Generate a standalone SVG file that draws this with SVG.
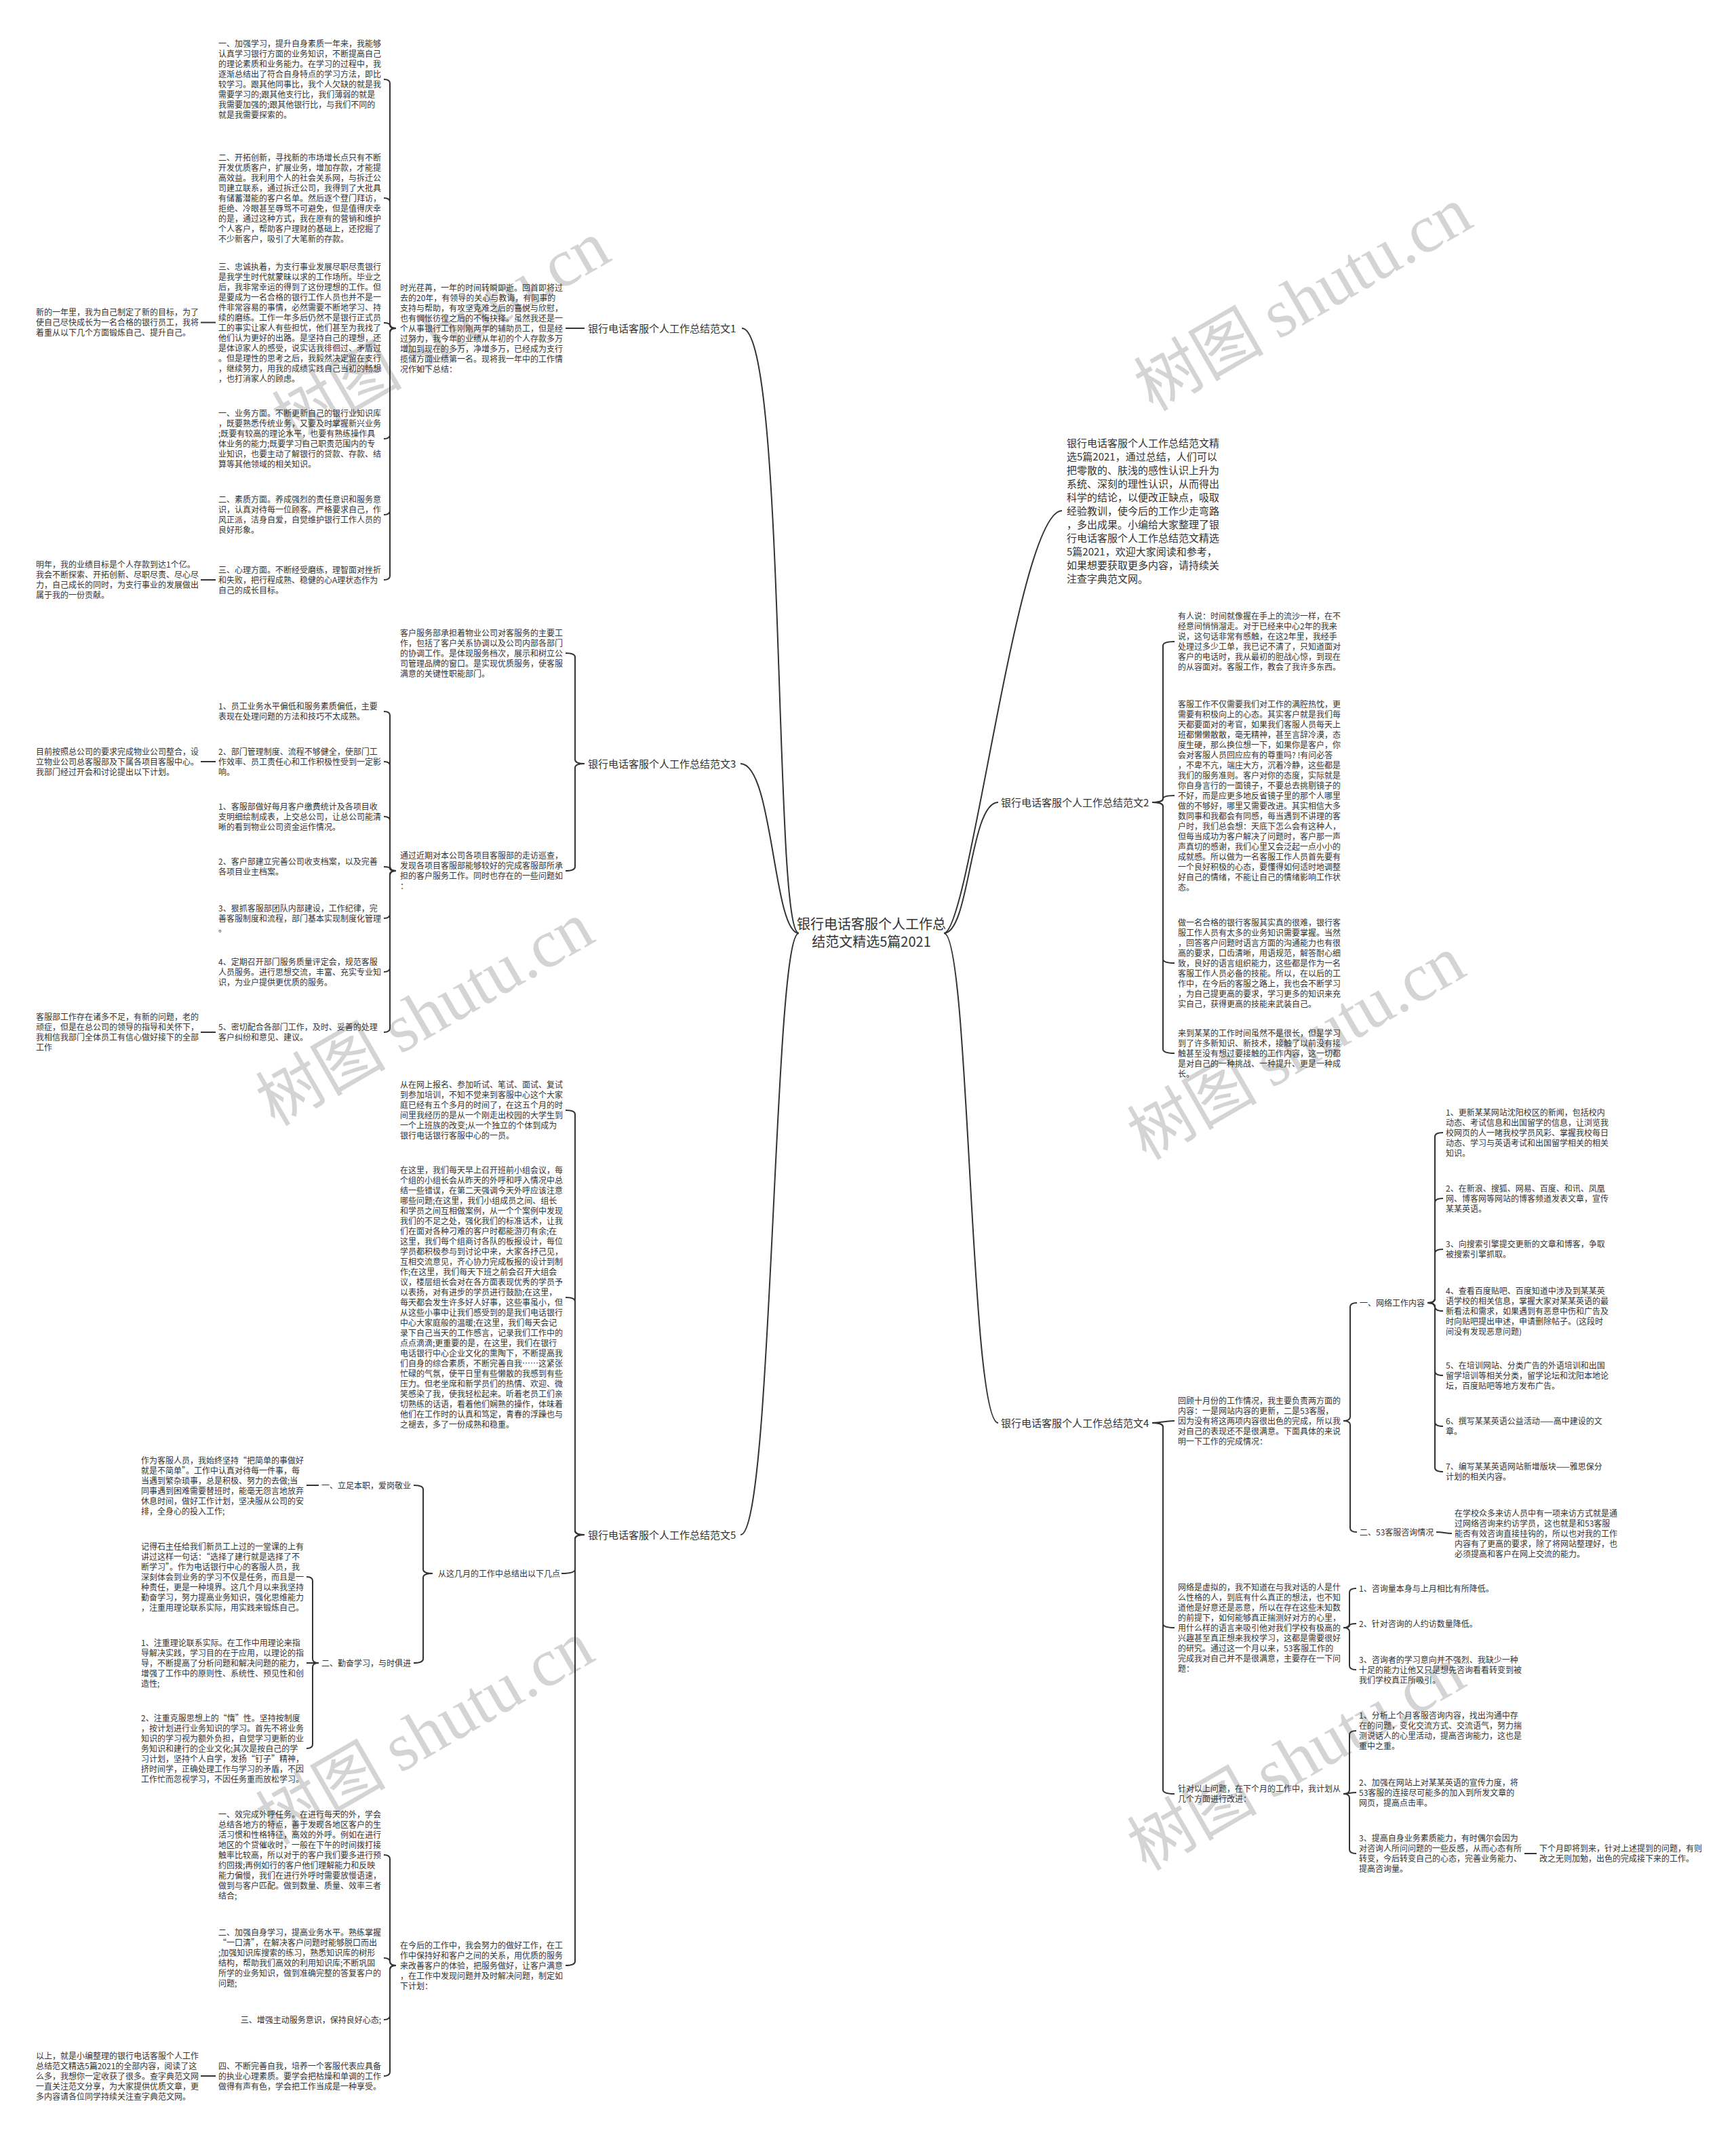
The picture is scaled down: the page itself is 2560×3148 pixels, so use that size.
<svg xmlns="http://www.w3.org/2000/svg" width="2560" height="3148" viewBox="0 0 2560 3148">
<style>
text{font-family:"Noto Sans CJK SC","Noto Sans",sans-serif;fill:#333}
.t{font-size:12px}
.lab{font-size:15px}
.intro{font-size:15px}
.root{font-size:20px}
.wm{font-size:96px;fill:#d4d4d4}
.wms{font-family:"Liberation Serif","DejaVu Serif",serif;font-size:100px}
.c{fill:none;stroke:#333;stroke-width:2}
</style>
<rect width="2560" height="3148" fill="#fff"/>
<g id="watermark">
<text class="wm" text-anchor="middle" transform="translate(667,520) rotate(-30)">树图 <tspan class="wms">shutu.cn</tspan></text>
<text class="wm" text-anchor="middle" transform="translate(1938,470) rotate(-30)">树图 <tspan class="wms">shutu.cn</tspan></text>
<text class="wm" text-anchor="middle" transform="translate(643,1524) rotate(-30)">树图 <tspan class="wms">shutu.cn</tspan></text>
<text class="wm" text-anchor="middle" transform="translate(1928,1574) rotate(-30)">树图 <tspan class="wms">shutu.cn</tspan></text>
<text class="wm" text-anchor="middle" transform="translate(643,2584) rotate(-30)">树图 <tspan class="wms">shutu.cn</tspan></text>
<text class="wm" text-anchor="middle" transform="translate(1928,2622) rotate(-30)">树图 <tspan class="wms">shutu.cn</tspan></text>
</g>
<g id="connectors">
<path class="c" d="M1178 1376C1140 1376 1160 484 1094 484"/>
<path class="c" d="M1178 1376C1140 1376 1140 1126 1092 1126"/>
<path class="c" d="M1178 1376C1140 1376 1140 2263 1092 2263"/>
<path class="c" d="M1392 1376C1430 1376 1500 753 1566 753"/>
<path class="c" d="M1392 1376C1430 1376 1430 1183 1472 1183"/>
<path class="c" d="M1392 1376C1430 1376 1430 2098 1472 2098"/>
<path class="c" d="M834 484H862"/>
<path class="c" d="M584 484Q575 484 575 478V123Q575 117 566 117"/>
<path class="c" d="M584 484Q575 484 575 478V298Q575 292 566 292"/>
<path class="c" d="M584 484Q575 484 575 480Q575 476 566 476"/>
<path class="c" d="M584 484Q575 484 575 490V641Q575 647 566 647"/>
<path class="c" d="M584 484Q575 484 575 490V753Q575 759 566 759"/>
<path class="c" d="M584 484Q575 484 575 490V849Q575 855 566 855"/>
<path class="c" d="M318 475.5H296"/>
<path class="c" d="M318 855H296"/>
<path class="c" d="M862 1126Q848 1126 848 1120V969Q848 963 834 963"/>
<path class="c" d="M862 1126Q848 1126 848 1132V1278Q848 1284 834 1284"/>
<path class="c" d="M584 1284Q575 1284 575 1278V1055Q575 1049 566 1049"/>
<path class="c" d="M584 1284Q575 1284 575 1278V1129Q575 1123 566 1123"/>
<path class="c" d="M584 1284Q575 1284 575 1278V1210Q575 1204 566 1204"/>
<path class="c" d="M584 1284Q575 1284 575 1281Q575 1278 566 1278"/>
<path class="c" d="M584 1284Q575 1284 575 1290V1348Q575 1354 566 1354"/>
<path class="c" d="M584 1284Q575 1284 575 1290V1427Q575 1433 566 1433"/>
<path class="c" d="M584 1284Q575 1284 575 1290V1516Q575 1522 566 1522"/>
<path class="c" d="M318 1123H296"/>
<path class="c" d="M318 1522H296"/>
<path class="c" d="M862 2263Q848 2263 848 2257V1643Q848 1637 834 1637"/>
<path class="c" d="M862 2263Q848 2263 848 2257V1919Q848 1913 834 1913"/>
<path class="c" d="M862 2263Q848 2263 848 2269V2314Q848 2320 828 2320"/>
<path class="c" d="M862 2263Q848 2263 848 2269V2892Q848 2898 834 2898"/>
<path class="c" d="M638 2320Q624 2320 624 2314V2196Q624 2190 610 2190"/>
<path class="c" d="M638 2320Q624 2320 624 2326V2446Q624 2452 610 2452"/>
<path class="c" d="M470 2190H452"/>
<path class="c" d="M470 2452Q461 2452 461 2446V2331Q461 2325 452 2325"/>
<path class="c" d="M470 2452H452"/>
<path class="c" d="M470 2452Q461 2452 461 2458V2572Q461 2578 452 2578"/>
<path class="c" d="M584 2898Q575 2898 575 2892V2741Q575 2735 566 2735"/>
<path class="c" d="M584 2898Q575 2898 575 2892.5Q575 2887 566 2887"/>
<path class="c" d="M584 2898Q575 2898 575 2904V2972Q575 2978 566 2978"/>
<path class="c" d="M584 2898Q575 2898 575 2904V3055Q575 3061 566 3061"/>
<path class="c" d="M318 3061H296"/>
<path class="c" d="M1699 1183Q1715 1183 1715 1177V952Q1715 946 1732 946"/>
<path class="c" d="M1699 1183Q1715 1183 1715 1178Q1715 1173 1732 1173"/>
<path class="c" d="M1699 1183Q1715 1183 1715 1189V1414Q1715 1420 1732 1420"/>
<path class="c" d="M1699 1183Q1715 1183 1715 1189V1547Q1715 1553 1732 1553"/>
<path class="c" d="M1699 2098C1715 2098 1715 2095 1732 2095"/>
<path class="c" d="M1699 2098Q1715 2098 1715 2104V2394Q1715 2400 1732 2400"/>
<path class="c" d="M1699 2098Q1715 2098 1715 2104V2639Q1715 2645 1732 2645"/>
<path class="c" d="M1981 2095Q1991 2095 1991 2089V1927Q1991 1921 2001 1921"/>
<path class="c" d="M1981 2095Q1991 2095 1991 2101V2253Q1991 2259 2001 2259"/>
<path class="c" d="M2105 1921Q2116 1921 2116 1915V1676Q2116 1670 2128 1670"/>
<path class="c" d="M2105 1921Q2116 1921 2116 1915V1773Q2116 1767 2128 1767"/>
<path class="c" d="M2105 1921Q2116 1921 2116 1915V1848Q2116 1842 2128 1842"/>
<path class="c" d="M2105 1921Q2116 1921 2116 1927Q2116 1933 2128 1933"/>
<path class="c" d="M2105 1921Q2116 1921 2116 1927V2022Q2116 2028 2128 2028"/>
<path class="c" d="M2105 1921Q2116 1921 2116 1927V2097Q2116 2103 2128 2103"/>
<path class="c" d="M2105 1921Q2116 1921 2116 1927V2164Q2116 2170 2128 2170"/>
<path class="c" d="M2118 2259C2130 2259 2130 2261 2141 2261"/>
<path class="c" d="M1981 2400Q1990 2400 1990 2394V2348Q1990 2342 2000 2342"/>
<path class="c" d="M1981 2400Q1990 2400 1990 2397Q1990 2394 2000 2394"/>
<path class="c" d="M1981 2400Q1990 2400 1990 2406V2456Q1990 2462 2000 2462"/>
<path class="c" d="M1981 2645Q1990 2645 1990 2639V2558Q1990 2552 2000 2552"/>
<path class="c" d="M1981 2645C1990 2645 1990 2643 2000 2643"/>
<path class="c" d="M1981 2645Q1990 2645 1990 2651V2727Q1990 2733 2000 2733"/>
<path class="c" d="M2248 2733H2266"/>
</g>
<g id="root"><text class="root" text-anchor="middle"><tspan x="1285" y="1369.5">银行电话客服个人工作总</tspan><tspan x="1285" y="1395.5">结范文精选5篇2021</tspan></text></g>
<g id="intro"><text class="intro" x="1573" y="658.7"><tspan x="1573" dy="0">银行电话客服个人工作总结范文精</tspan><tspan x="1573" dy="20">选5篇2021，通过总结，人们可以</tspan><tspan x="1573" dy="20">把零散的、肤浅的感性认识上升为</tspan><tspan x="1573" dy="20">系统、深刻的理性认识，从而得出</tspan><tspan x="1573" dy="20">科学的结论，以便改正缺点，吸取</tspan><tspan x="1573" dy="20">经验教训，使今后的工作少走弯路</tspan><tspan x="1573" dy="20">，多出成果。小编给大家整理了银</tspan><tspan x="1573" dy="20">行电话客服个人工作总结范文精选</tspan><tspan x="1573" dy="20">5篇2021，欢迎大家阅读和参考，</tspan><tspan x="1573" dy="20">如果想要获取更多内容，请持续关</tspan><tspan x="1573" dy="20">注查字典范文网。</tspan></text></g>
<g id="b1"><text class="lab" x="867" y="489.5">银行电话客服个人工作总结范文1</text></g>
<g id="b1-text"><text class="t" x="590" y="428.5"><tspan x="590" dy="0">时光荏苒，一年的时间转瞬即逝。回首即将过</tspan><tspan x="590" dy="15">去的20年，有领导的关心与教诲，有同事的</tspan><tspan x="590" dy="15">支持与帮助，有攻坚克难之后的喜悦与欣慰，</tspan><tspan x="590" dy="15">也有惆怅彷徨之后的不悔抉择。虽然我还是一</tspan><tspan x="590" dy="15">个从事银行工作刚刚两年的辅助员工，但是经</tspan><tspan x="590" dy="15">过努力，我今年的业绩从年初的个人存款多万</tspan><tspan x="590" dy="15">增加到现在的多万，净增多万，已经成为支行</tspan><tspan x="590" dy="15">揽储方面业绩第一名。现将我一年中的工作情</tspan><tspan x="590" dy="15">况作如下总结：</tspan></text></g>
<g id="b1-l1"><text class="t" x="322" y="69"><tspan x="322" dy="0">一、加强学习，提升自身素质一年来，我能够</tspan><tspan x="322" dy="15">认真学习银行方面的业务知识，不断提高自己</tspan><tspan x="322" dy="15">的理论素质和业务能力。在学习的过程中，我</tspan><tspan x="322" dy="15">逐渐总结出了符合自身特点的学习方法，即比</tspan><tspan x="322" dy="15">较学习。跟其他同事比，我个人欠缺的就是我</tspan><tspan x="322" dy="15">需要学习的;跟其他支行比，我们薄弱的就是</tspan><tspan x="322" dy="15">我需要加强的;跟其他银行比，与我们不同的</tspan><tspan x="322" dy="15">就是我需要探索的。</tspan></text></g>
<g id="b1-l2"><text class="t" x="322" y="236.5"><tspan x="322" dy="0">二、开拓创新，寻找新的市场增长点只有不断</tspan><tspan x="322" dy="15">开发优质客户，扩展业务，增加存款，才能提</tspan><tspan x="322" dy="15">高效益。我利用个人的社会关系网，与拆迁公</tspan><tspan x="322" dy="15">司建立联系，通过拆迁公司，我得到了大批具</tspan><tspan x="322" dy="15">有储蓄潜能的客户名单。然后逐个登门拜访，</tspan><tspan x="322" dy="15">拒绝、冷眼甚至辱骂不可避免，但是值得庆幸</tspan><tspan x="322" dy="15">的是，通过这种方式，我在原有的营销和维护</tspan><tspan x="322" dy="15">个人客户，帮助客户理财的基础上，还挖掘了</tspan><tspan x="322" dy="15">不少新客户，吸引了大笔新的存款。</tspan></text></g>
<g id="b1-l3"><text class="t" x="322" y="398"><tspan x="322" dy="0">三、忠诚执着，为支行事业发展尽职尽责银行</tspan><tspan x="322" dy="15">是我学生时代就蒙昧以求的工作场所。毕业之</tspan><tspan x="322" dy="15">后，我非常幸运的得到了这份理想的工作。但</tspan><tspan x="322" dy="15">是要成为一名合格的银行工作人员也并不是一</tspan><tspan x="322" dy="15">件非常容易的事情，必然需要不断地学习、持</tspan><tspan x="322" dy="15">续的磨练。工作一年多后仍然不是银行正式员</tspan><tspan x="322" dy="15">工的事实让家人有些担忧，他们甚至为我找了</tspan><tspan x="322" dy="15">他们认为更好的出路。是坚持自己的理想，还</tspan><tspan x="322" dy="15">是体谅家人的感受，说实话我徘徊过、矛盾过</tspan><tspan x="322" dy="15">。但是理性的思考之后，我毅然决定留在支行</tspan><tspan x="322" dy="15">，继续努力，用我的成绩实践自己当初的畅想</tspan><tspan x="322" dy="15">，也打消家人的顾虑。</tspan></text></g>
<g id="b1-l4"><text class="t" x="322" y="614"><tspan x="322" dy="0">一、业务方面。不断更新自己的银行业知识库</tspan><tspan x="322" dy="15">，既要熟悉传统业务，又要及时掌握新兴业务</tspan><tspan x="322" dy="15">;既要有较高的理论水平，也要有熟练操作具</tspan><tspan x="322" dy="15">体业务的能力;既要学习自己职责范围内的专</tspan><tspan x="322" dy="15">业知识，也要主动了解银行的贷款、存款、结</tspan><tspan x="322" dy="15">算等其他领域的相关知识。</tspan></text></g>
<g id="b1-l5"><text class="t" x="322" y="741"><tspan x="322" dy="0">二、素质方面。养成强烈的责任意识和服务意</tspan><tspan x="322" dy="15">识，认真对待每一位顾客。严格要求自己，作</tspan><tspan x="322" dy="15">风正派，洁身自爱，自觉维护银行工作人员的</tspan><tspan x="322" dy="15">良好形象。</tspan></text></g>
<g id="b1-l6"><text class="t" x="322" y="844.5"><tspan x="322" dy="0">三、心理方面。不断经受磨练，理智面对挫折</tspan><tspan x="322" dy="15">和失败，把行程成熟、稳健的心A理状态作为</tspan><tspan x="322" dy="15">自己的成长目标。</tspan></text></g>
<g id="b1-f1"><text class="t" x="53" y="464.5"><tspan x="53" dy="0">新的一年里，我为自己制定了新的目标，为了</tspan><tspan x="53" dy="15">使自己尽快成长为一名合格的银行员工，我将</tspan><tspan x="53" dy="15">着重从以下几个方面锻炼自己、提升自己。</tspan></text></g>
<g id="b1-f2"><text class="t" x="53" y="837"><tspan x="53" dy="0">明年，我的业绩目标是个人存款到达1个亿。</tspan><tspan x="53" dy="15">我会不断探索、开拓创新、尽职尽责、尽心尽</tspan><tspan x="53" dy="15">力，自己成长的同时，为支行事业的发展做出</tspan><tspan x="53" dy="15">属于我的一份贡献。</tspan></text></g>
<g id="b3"><text class="lab" x="867" y="1131.5">银行电话客服个人工作总结范文3</text></g>
<g id="b3-top"><text class="t" x="590" y="937.5"><tspan x="590" dy="0">客户服务部承担着物业公司对客服务的主要工</tspan><tspan x="590" dy="15">作，包括了客户关系协调以及公司内部各部门</tspan><tspan x="590" dy="15">的协调工作。是体现服务档次，展示和树立公</tspan><tspan x="590" dy="15">司管理品牌的窗口。是实现优质服务，使客服</tspan><tspan x="590" dy="15">满意的关键性职能部门。</tspan></text></g>
<g id="b3-mid"><text class="t" x="590" y="1266"><tspan x="590" dy="0">通过近期对本公司各项目客服部的走访巡查，</tspan><tspan x="590" dy="15">发现各项目客服部能够较好的完成客服部所承</tspan><tspan x="590" dy="15">担的客户服务工作。同时也存在的一些问题如</tspan><tspan x="590" dy="15">：</tspan></text></g>
<g id="b3-a"><text class="t" x="322" y="1046"><tspan x="322" dy="0">1、员工业务水平偏低和服务素质偏低，主要</tspan><tspan x="322" dy="15">表现在处理问题的方法和技巧不太成熟。</tspan></text></g>
<g id="b3-b"><text class="t" x="322" y="1112.5"><tspan x="322" dy="0">2、部门管理制度、流程不够健全，使部门工</tspan><tspan x="322" dy="15">作效率、员工责任心和工作积极性受到一定影</tspan><tspan x="322" dy="15">响。</tspan></text></g>
<g id="b3-c"><text class="t" x="322" y="1193.5"><tspan x="322" dy="0">1、客服部做好每月客户缴费统计及各项目收</tspan><tspan x="322" dy="15">支明细绘制成表，上交总公司，让总公司能清</tspan><tspan x="322" dy="15">晰的看到物业公司资金运作情况。</tspan></text></g>
<g id="b3-d"><text class="t" x="322" y="1275"><tspan x="322" dy="0">2、客户部建立完善公司收支档案，以及完善</tspan><tspan x="322" dy="15">各项目业主档案。</tspan></text></g>
<g id="b3-e"><text class="t" x="322" y="1343.5"><tspan x="322" dy="0">3、狠抓客服部团队内部建设，工作纪律，完</tspan><tspan x="322" dy="15">善客服制度和流程，部门基本实现制度化管理</tspan><tspan x="322" dy="15">。</tspan></text></g>
<g id="b3-f"><text class="t" x="322" y="1422.5"><tspan x="322" dy="0">4、定期召开部门服务质量评定会，规范客服</tspan><tspan x="322" dy="15">人员服务。进行思想交流，丰富、充实专业知</tspan><tspan x="322" dy="15">识，为业户提供更优质的服务。</tspan></text></g>
<g id="b3-g"><text class="t" x="322" y="1519"><tspan x="322" dy="0">5、密切配合各部门工作，及时、妥善的处理</tspan><tspan x="322" dy="15">客户纠纷和意见、建议。</tspan></text></g>
<g id="b3-f3"><text class="t" x="53" y="1112.5"><tspan x="53" dy="0">目前按照总公司的要求完成物业公司整合，设</tspan><tspan x="53" dy="15">立物业公司总客服部及下属各项目客服中心。</tspan><tspan x="53" dy="15">我部门经过开会和讨论提出以下计划。</tspan></text></g>
<g id="b3-f4"><text class="t" x="53" y="1504"><tspan x="53" dy="0">客服部工作存在诸多不足，有新的问题，老的</tspan><tspan x="53" dy="15">顽症，但是在总公司的领导的指导和关怀下，</tspan><tspan x="53" dy="15">我相信我部门全体员工有信心做好接下的全部</tspan><tspan x="53" dy="15">工作</tspan></text></g>
<g id="b5"><text class="lab" x="867" y="2268.5">银行电话客服个人工作总结范文5</text></g>
<g id="b5-t1"><text class="t" x="590" y="1604"><tspan x="590" dy="0">从在网上报名、参加听试、笔试、面试、复试</tspan><tspan x="590" dy="15">到参加培训，不知不觉来到客服中心这个大家</tspan><tspan x="590" dy="15">庭已经有五个多月的时间了，在这五个月的时</tspan><tspan x="590" dy="15">间里我经历的是从一个刚走出校园的大学生到</tspan><tspan x="590" dy="15">一个上班族的改变;从一个独立的个体到成为</tspan><tspan x="590" dy="15">银行电话银行客服中心的一员。</tspan></text></g>
<g id="b5-t2"><text class="t" x="590" y="1730"><tspan x="590" dy="0">在这里，我们每天早上召开班前小组会议，每</tspan><tspan x="590" dy="15">个组的小组长会从昨天的外呼和呼入情况中总</tspan><tspan x="590" dy="15">结一些错误，在第二天强调今天外呼应该注意</tspan><tspan x="590" dy="15">哪些问题;在这里，我们小组成员之间、组长</tspan><tspan x="590" dy="15">和学员之间互相做案例，从一个个案例中发现</tspan><tspan x="590" dy="15">我们的不足之处，强化我们的标准话术，让我</tspan><tspan x="590" dy="15">们在面对各种刁难的客户时都能游刃有余;在</tspan><tspan x="590" dy="15">这里，我们每个组商讨各队的板报设计，每位</tspan><tspan x="590" dy="15">学员都积极参与到讨论中来，大家各抒己见，</tspan><tspan x="590" dy="15">互相交流意见，齐心协力完成板报的设计到制</tspan><tspan x="590" dy="15">作;在这里，我们每天下班之前会召开大组会</tspan><tspan x="590" dy="15">议，楼层组长会对在各方面表现优秀的学员予</tspan><tspan x="590" dy="15">以表扬，对有进步的学员进行鼓励;在这里，</tspan><tspan x="590" dy="15">每天都会发生许多好人好事，这些事虽小，但</tspan><tspan x="590" dy="15">从这些小事中让我们感受到的是我们电话银行</tspan><tspan x="590" dy="15">中心大家庭般的温暖;在这里，我们每天会记</tspan><tspan x="590" dy="15">录下自己当天的工作感言，记录我们工作中的</tspan><tspan x="590" dy="15">点点滴滴;更重要的是，在这里，我们在银行</tspan><tspan x="590" dy="15">电话银行中心企业文化的熏陶下，不断提高我</tspan><tspan x="590" dy="15">们自身的综合素质，不断完善自我……这紧张</tspan><tspan x="590" dy="15">忙碌的气氛，使平日里有些懒散的我感到有些</tspan><tspan x="590" dy="15">压力。但老坐席和新学员们的热情、欢迎、微</tspan><tspan x="590" dy="15">笑感染了我，使我轻松起来。听着老员工们亲</tspan><tspan x="590" dy="15">切熟练的话语，看着他们娴熟的操作，体味着</tspan><tspan x="590" dy="15">他们在工作时的认真和笃定，青春的浮躁也与</tspan><tspan x="590" dy="15">之褪去，多了一份成熟和稳重。</tspan></text></g>
<g id="b5-s2"><text class="t" x="826" y="2324.5" text-anchor="end">从这几月的工作中总结出以下几点</text></g>
<g id="b5-s1"><text class="t" x="606" y="2194.5" text-anchor="end">一、立足本职，爱岗敬业</text></g>
<g id="b5-s3"><text class="t" x="606" y="2456.5" text-anchor="end">二、勤奋学习，与时俱进</text></g>
<g id="b5-s1a"><text class="t" x="208" y="2157.5"><tspan x="208" dy="0">作为客服人员，我始终坚持“把简单的事做好</tspan><tspan x="208" dy="15">就是不简单”。工作中认真对待每一件事，每</tspan><tspan x="208" dy="15">当遇到繁杂琐事，总是积极、努力的去做;当</tspan><tspan x="208" dy="15">同事遇到困难需要替班时，能毫无怨言地放弃</tspan><tspan x="208" dy="15">休息时间，做好工作计划，坚决服从公司的安</tspan><tspan x="208" dy="15">排，全身心的投入工作;</tspan></text></g>
<g id="b5-s3a"><text class="t" x="208" y="2284.5"><tspan x="208" dy="0">记得石主任给我们新员工上过的一堂课的上有</tspan><tspan x="208" dy="15">讲过这样一句话：“选择了建行就是选择了不</tspan><tspan x="208" dy="15">断学习”。作为电话银行中心的客服人员，我</tspan><tspan x="208" dy="15">深刻体会到业务的学习不仅是任务，而且是一</tspan><tspan x="208" dy="15">种责任，更是一种境界。这几个月以来我坚持</tspan><tspan x="208" dy="15">勤奋学习，努力提高业务知识，强化思维能力</tspan><tspan x="208" dy="15">，注重用理论联系实际，用实践来锻炼自己。</tspan></text></g>
<g id="b5-s3b"><text class="t" x="208" y="2426.5"><tspan x="208" dy="0">1、注重理论联系实际。在工作中用理论来指</tspan><tspan x="208" dy="15">导解决实践，学习目的在于应用，以理论的指</tspan><tspan x="208" dy="15">导，不断提高了分析问题和解决问题的能力，</tspan><tspan x="208" dy="15">增强了工作中的原则性、系统性、预见性和创</tspan><tspan x="208" dy="15">造性;</tspan></text></g>
<g id="b5-s3c"><text class="t" x="208" y="2537.5"><tspan x="208" dy="0">2、注重克服思想上的“惰”性。坚持按制度</tspan><tspan x="208" dy="15">，按计划进行业务知识的学习。首先不将业务</tspan><tspan x="208" dy="15">知识的学习视为额外负担，自觉学习更新的业</tspan><tspan x="208" dy="15">务知识和建行的企业文化;其次是按自己的学</tspan><tspan x="208" dy="15">习计划，坚持个人自学，发扬“钉子”精神，</tspan><tspan x="208" dy="15">挤时间学，正确处理工作与学习的矛盾，不因</tspan><tspan x="208" dy="15">工作忙而忽视学习，不因任务重而放松学习。</tspan></text></g>
<g id="b5-t3"><text class="t" x="590" y="2872.5"><tspan x="590" dy="0">在今后的工作中，我会努力的做好工作，在工</tspan><tspan x="590" dy="15">作中保持好和客户之间的关系，用优质的服务</tspan><tspan x="590" dy="15">来改善客户的体验，把服务做好，让客户满意</tspan><tspan x="590" dy="15">，在工作中发现问题并及时解决问题，制定如</tspan><tspan x="590" dy="15">下计划：</tspan></text></g>
<g id="b5-v1"><text class="t" x="322" y="2679.5"><tspan x="322" dy="0">一、效完成外呼任务。在进行每天的外，学会</tspan><tspan x="322" dy="15">总结各地方的特点，善于发现各地区客户的生</tspan><tspan x="322" dy="15">活习惯和性格特征，高效的外呼。例如在进行</tspan><tspan x="322" dy="15">地区的个贷催收时，一般在下午的时间拨打接</tspan><tspan x="322" dy="15">触率比较高，所以对于的客户我们要多进行预</tspan><tspan x="322" dy="15">约回拨;再例如行的客户他们理解能力和反映</tspan><tspan x="322" dy="15">能力偏慢，我们在进行外呼时需要放慢语速，</tspan><tspan x="322" dy="15">做到与客户匹配。做到数量、质量、效率三者</tspan><tspan x="322" dy="15">结合;</tspan></text></g>
<g id="b5-v2"><text class="t" x="322" y="2854"><tspan x="322" dy="0">二、加强自身学习，提高业务水平。熟练掌握</tspan><tspan x="322" dy="15">“一口清”，在解决客户问题时能够脱口而出</tspan><tspan x="322" dy="15">;加强知识库搜索的练习，熟悉知识库的树形</tspan><tspan x="322" dy="15">结构，帮助我们高效的利用知识库;不断巩固</tspan><tspan x="322" dy="15">所学的业务知识，做到准确完整的答复客户的</tspan><tspan x="322" dy="15">问题;</tspan></text></g>
<g id="b5-v3"><text class="t" x="562" y="2982.5" text-anchor="end">三、增强主动服务意识，保持良好心态;</text></g>
<g id="b5-v4"><text class="t" x="322" y="3050.5"><tspan x="322" dy="0">四、不断完善自我，培养一个客服代表应具备</tspan><tspan x="322" dy="15">的执业心理素质。要学会把枯燥和单调的工作</tspan><tspan x="322" dy="15">做得有声有色，学会把工作当成是一种享受。</tspan></text></g>
<g id="b5-f5"><text class="t" x="53" y="3035.5"><tspan x="53" dy="0">以上，就是小编整理的银行电话客服个人工作</tspan><tspan x="53" dy="15">总结范文精选5篇2021的全部内容，阅读了这</tspan><tspan x="53" dy="15">么多，我想你一定收获了很多。查字典范文网</tspan><tspan x="53" dy="15">一直关注范文分享，为大家提供优质文章，更</tspan><tspan x="53" dy="15">多内容请各位同学持续关注查字典范文网。</tspan></text></g>
<g id="b2"><text class="lab" x="1476" y="1188.5">银行电话客服个人工作总结范文2</text></g>
<g id="b2-r1"><text class="t" x="1737" y="913"><tspan x="1737" dy="0">有人说：时间就像握在手上的流沙一样，在不</tspan><tspan x="1737" dy="15">经意间悄悄溜走。对于已经来中心2年的我来</tspan><tspan x="1737" dy="15">说，这句话非常有感触，在这2年里，我经手</tspan><tspan x="1737" dy="15">处理过多少工单，我已记不清了，只知道面对</tspan><tspan x="1737" dy="15">客户的电话时，我从最初的胆战心惊，到现在</tspan><tspan x="1737" dy="15">的从容面对。客服工作，教会了我许多东西。</tspan></text></g>
<g id="b2-r2"><text class="t" x="1737" y="1042.5"><tspan x="1737" dy="0">客服工作不仅需要我们对工作的满腔热忱，更</tspan><tspan x="1737" dy="15">需要有积极向上的心态。其实客户就是我们每</tspan><tspan x="1737" dy="15">天都要面对的考官，如果我们客服人员每天上</tspan><tspan x="1737" dy="15">班都懒懒散散，毫无精神，甚至言辞冷漠，态</tspan><tspan x="1737" dy="15">度生硬，那么换位想一下，如果你是客户，你</tspan><tspan x="1737" dy="15">会对客服人员回应应有的尊重吗? !有问必答</tspan><tspan x="1737" dy="15">，不卑不亢，端庄大方，沉着冷静，这些都是</tspan><tspan x="1737" dy="15">我们的服务准则。客户对你的态度，实际就是</tspan><tspan x="1737" dy="15">你自身言行的一面镜子，不要总去挑剔镜子的</tspan><tspan x="1737" dy="15">不好，而是应更多地反省镜子里的那个人哪里</tspan><tspan x="1737" dy="15">做的不够好，哪里又需要改进。其实相信大多</tspan><tspan x="1737" dy="15">数同事和我都会有同感，每当遇到不讲理的客</tspan><tspan x="1737" dy="15">户时，我们总会想：天底下怎么会有这种人，</tspan><tspan x="1737" dy="15">但每当成功为客户解决了问题时，客户那一声</tspan><tspan x="1737" dy="15">声真切的感谢，我们心里又会泛起一点小小的</tspan><tspan x="1737" dy="15">成就感。所以做为一名客服工作人员首先要有</tspan><tspan x="1737" dy="15">一个良好积极的心态，要懂得如何适时地调整</tspan><tspan x="1737" dy="15">好自己的情绪，不能让自己的情绪影响工作状</tspan><tspan x="1737" dy="15">态。</tspan></text></g>
<g id="b2-r3"><text class="t" x="1737" y="1364.5"><tspan x="1737" dy="0">做一名合格的银行客服其实真的很难，银行客</tspan><tspan x="1737" dy="15">服工作人员有太多的业务知识需要掌握。当然</tspan><tspan x="1737" dy="15">，回答客户问题时语言方面的沟通能力也有很</tspan><tspan x="1737" dy="15">高的要求，口齿清晰，用语规范，解答耐心细</tspan><tspan x="1737" dy="15">致，良好的语言组织能力，这些都是作为一名</tspan><tspan x="1737" dy="15">客服工作人员必备的技能。所以，在以后的工</tspan><tspan x="1737" dy="15">作中，在今后的客服之路上，我也会不断学习</tspan><tspan x="1737" dy="15">，为自己提更高的要求，学习更多的知识来充</tspan><tspan x="1737" dy="15">实自己，获得更高的技能来武装自己。</tspan></text></g>
<g id="b2-r4"><text class="t" x="1737" y="1527.5"><tspan x="1737" dy="0">来到某某的工作时间虽然不是很长，但是学习</tspan><tspan x="1737" dy="15">到了许多新知识、新技术，接触了以前没有接</tspan><tspan x="1737" dy="15">触甚至没有想过要接触的工作内容，这一切都</tspan><tspan x="1737" dy="15">是对自己的一种挑战、一种提升、更是一种成</tspan><tspan x="1737" dy="15">长。</tspan></text></g>
<g id="b4"><text class="lab" x="1476" y="2103.5">银行电话客服个人工作总结范文4</text></g>
<g id="b4-q1"><text class="t" x="1737" y="2069.5"><tspan x="1737" dy="0">回顾十月份的工作情况，我主要负责两方面的</tspan><tspan x="1737" dy="15">内容：一是网站内容的更新，二是53客服，</tspan><tspan x="1737" dy="15">因为没有将这两项内容很出色的完成，所以我</tspan><tspan x="1737" dy="15">对自己的表现还不是很满意。下面具体的来说</tspan><tspan x="1737" dy="15">明一下工作的完成情况：</tspan></text></g>
<g id="b4-q2"><text class="t" x="1737" y="2344.5"><tspan x="1737" dy="0">网络是虚拟的，我不知道在与我对话的人是什</tspan><tspan x="1737" dy="15">么性格的人，到底有什么真正的想法，也不知</tspan><tspan x="1737" dy="15">道他是好意还是恶意，所以在存在这些未知数</tspan><tspan x="1737" dy="15">的前提下，如何能够真正揣测好对方的心里，</tspan><tspan x="1737" dy="15">用什么样的语言来吸引他对我们学校有极高的</tspan><tspan x="1737" dy="15">兴趣甚至真正想来我校学习，这都是需要很好</tspan><tspan x="1737" dy="15">的研究。通过这一个月以来，53客服工作的</tspan><tspan x="1737" dy="15">完成我对自己并不是很满意，主要存在一下问</tspan><tspan x="1737" dy="15">题：</tspan></text></g>
<g id="b4-q3"><text class="t" x="1737" y="2642"><tspan x="1737" dy="0">针对以上问题，在下个月的工作中，我计划从</tspan><tspan x="1737" dy="15">几个方面进行改进：</tspan></text></g>
<g id="b4-sa"><text class="t" x="2005" y="1925.5">一、网络工作内容</text></g>
<g id="b4-sb"><text class="t" x="2005" y="2263.5">二、53客服咨询情况</text></g>
<g id="b4-n1"><text class="t" x="2132" y="1644.5"><tspan x="2132" dy="0">1、更新某某网站沈阳校区的新闻，包括校内</tspan><tspan x="2132" dy="15">动态、考试信息和出国留学的信息，让浏览我</tspan><tspan x="2132" dy="15">校网页的人一睹我校学员风彩、掌握我校每日</tspan><tspan x="2132" dy="15">动态、学习与英语考试和出国留学相关的相关</tspan><tspan x="2132" dy="15">知识。</tspan></text></g>
<g id="b4-n2"><text class="t" x="2132" y="1756.5"><tspan x="2132" dy="0">2、在新浪、搜狐、网易、百度、和讯、凤凰</tspan><tspan x="2132" dy="15">网、博客网等网站的博客频道发表文章，宣传</tspan><tspan x="2132" dy="15">某某英语。</tspan></text></g>
<g id="b4-n3"><text class="t" x="2132" y="1839"><tspan x="2132" dy="0">3、向搜索引擎提交更新的文章和博客，争取</tspan><tspan x="2132" dy="15">被搜索引擎抓取。</tspan></text></g>
<g id="b4-n4"><text class="t" x="2132" y="1907.5"><tspan x="2132" dy="0">4、查看百度贴吧、百度知道中涉及到某某英</tspan><tspan x="2132" dy="15">语学校的相关信息，掌握大家对某某英语的最</tspan><tspan x="2132" dy="15">新看法和需求，如果遇到有恶意中伤和广告及</tspan><tspan x="2132" dy="15">时向贴吧提出申述，申请删除帖子。(这段时</tspan><tspan x="2132" dy="15">间没有发现恶意问题)</tspan></text></g>
<g id="b4-n5"><text class="t" x="2132" y="2017.5"><tspan x="2132" dy="0">5、在培训网站、分类广告的外语培训和出国</tspan><tspan x="2132" dy="15">留学培训等相关分类，留学论坛和沈阳本地论</tspan><tspan x="2132" dy="15">坛，百度贴吧等地方发布广告。</tspan></text></g>
<g id="b4-n6"><text class="t" x="2132" y="2100"><tspan x="2132" dy="0">6、撰写某某英语公益活动——高中建设的文</tspan><tspan x="2132" dy="15">章。</tspan></text></g>
<g id="b4-n7"><text class="t" x="2132" y="2167"><tspan x="2132" dy="0">7、编写某某英语网站新增版块——雅思保分</tspan><tspan x="2132" dy="15">计划的相关内容。</tspan></text></g>
<g id="b4-n8"><text class="t" x="2145" y="2235.5"><tspan x="2145" dy="0">在学校众多来访人员中有一项来访方式就是通</tspan><tspan x="2145" dy="15">过网络咨询来约访学员，这也就是和53客服</tspan><tspan x="2145" dy="15">能否有效咨询直接挂钩的，所以也对我的工作</tspan><tspan x="2145" dy="15">内容有了更高的要求，除了将网站整理好，也</tspan><tspan x="2145" dy="15">必须提高和客户在网上交流的能力。</tspan></text></g>
<g id="b4-p1"><text class="t" x="2004" y="2346.5">1、咨询量本身与上月相比有所降低。</text></g>
<g id="b4-p2"><text class="t" x="2004" y="2398.5">2、针对咨询的人约访数量降低。</text></g>
<g id="b4-p3"><text class="t" x="2004" y="2451.5"><tspan x="2004" dy="0">3、咨询者的学习意向并不强烈、我缺少一种</tspan><tspan x="2004" dy="15">十足的能力让他又只是想先咨询看看转变到被</tspan><tspan x="2004" dy="15">我们学校真正所吸引。</tspan></text></g>
<g id="b4-m1"><text class="t" x="2004" y="2534"><tspan x="2004" dy="0">1、分析上个月客服咨询内容，找出沟通中存</tspan><tspan x="2004" dy="15">在的问题，变化交流方式、交流语气，努力揣</tspan><tspan x="2004" dy="15">测说话人的心里活动，提高咨询能力，这也是</tspan><tspan x="2004" dy="15">重中之重。</tspan></text></g>
<g id="b4-m2"><text class="t" x="2004" y="2632.5"><tspan x="2004" dy="0">2、加强在网站上对某某英语的宣传力度，将</tspan><tspan x="2004" dy="15">53客服的连接尽可能多的加入到所发文章的</tspan><tspan x="2004" dy="15">网页，提高点击率。</tspan></text></g>
<g id="b4-m3"><text class="t" x="2004" y="2715"><tspan x="2004" dy="0">3、提高自身业务素质能力，有时偶尔会因为</tspan><tspan x="2004" dy="15">对咨询人所问问题的一些反感，从而心态有所</tspan><tspan x="2004" dy="15">转变，今后转变自己的心态，完善业务能力、</tspan><tspan x="2004" dy="15">提高咨询量。</tspan></text></g>
<g id="b4-m3c"><text class="t" x="2270" y="2730"><tspan x="2270" dy="0">下个月即将到来，针对上述提到的问题，有则</tspan><tspan x="2270" dy="15">改之无则加勉，出色的完成接下来的工作。</tspan></text></g>
</svg>
